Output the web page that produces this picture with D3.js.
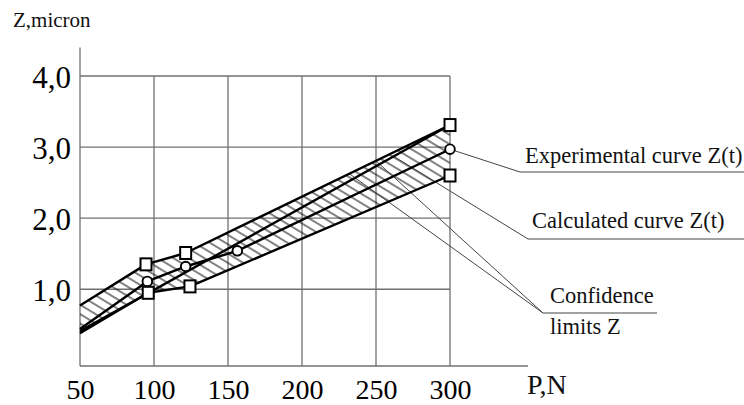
<!DOCTYPE html>
<html lang="en">
<head>
<meta charset="UTF-8">
<title>Z(P) with confidence limits</title>
<script src="https://cdnjs.cloudflare.com/ajax/libs/d3/7.8.5/d3.min.js"></script>
<style>
  body { margin: 0; background: #fff; }
  svg { display: block; font-family: "Liberation Serif", "DejaVu Serif", serif; }
</style>
</head>
<body>
<svg></svg>
<script>
  // ticks
  const xTicks = [50, 100, 150, 200, 250, 300];
  const yTicks = [1, 2, 3, 4];
  const yTickLabels = ['1,0', '2,0', '3,0', '4,0'];

  // [P, Z]
  const upperLimit = [[50, 0.77], [94.6, 1.35], [121.4, 1.51], [300, 3.31]];
  const lowerLimit = [[50, 0.38], [96.1, 0.95], [124.3, 1.04], [300, 2.60]];
  const experimental = [[50, 0.44], [95.5, 1.11], [121.4, 1.32], [156.3, 1.54], [300, 2.97]];
  const calculated = [[50, 0.41], [300, 3.31]];

  // which points carry markers
  const squareMarks = upperLimit.slice(1).concat(lowerLimit.slice(1));
  const circleMarks = experimental.slice(1);

  const W = 744, H = 405;
  const svg = d3.select('svg').attr('width', W).attr('height', H);

  const x = d3.scaleLinear().domain([50, 300]).range([80, 450]);
  const y = d3.scaleLinear().domain([-0.08, 4]).range([366, 76]);
  const line = d3.line().x(d => x(d[0])).y(d => y(d[1]));

  // point on a polyline at a given P
  function at(series, p) {
    const i = Math.max(1, d3.bisector(d => d[0]).left(series, p));
    const a = series[i - 1], b = series[i];
    const t = (p - a[0]) / (b[0] - a[0]);
    return [x(p), y(a[1] + t * (b[1] - a[1]))];
  }

  // hatch pattern
  const pat = svg.append('defs').append('pattern')
    .attr('id', 'hatch')
    .attr('patternUnits', 'userSpaceOnUse')
    .attr('width', 8).attr('height', 8)
    .attr('patternTransform', 'rotate(31)');
  pat.append('line')
    .attr('x1', 0).attr('y1', 4).attr('x2', 8).attr('y2', 4)
    .style('stroke', '#1a1a1a').style('stroke-width', 1.1);

  // grid
  const grid = svg.append('g').style('stroke', '#707070').style('stroke-width', 1.3);
  grid.selectAll('line.v')
    .data(xTicks.slice(1))
    .enter().append('line')
    .attr('x1', d => x(d)).attr('x2', d => x(d))
    .attr('y1', y(4)).attr('y2', y(-0.08));
  grid.selectAll('line.h')
    .data(yTicks)
    .enter().append('line')
    .attr('x1', x(50)).attr('x2', x(300))
    .attr('y1', d => y(d)).attr('y2', d => y(d));
  // axes lines
  grid.append('line')
    .attr('x1', x(50)).attr('x2', x(50))
    .attr('y1', y(4.4)).attr('y2', y(-0.08));
  grid.append('line')
    .attr('x1', x(50)).attr('x2', x(352.7))
    .attr('y1', y(-0.08)).attr('y2', y(-0.08));

  // hatched band between the limits
  svg.append('path')
    .attr('d', line(upperLimit.concat(lowerLimit.slice().reverse())) + 'Z')
    .style('fill', 'url(#hatch)')
    .style('stroke', 'none');

  // leader lines
  const leaders = [
    [at(experimental, 300), [520, 172], [744, 172]],
    [at(calculated, 262), [528, 239], [744, 239]],
    [at(upperLimit, 250), [543, 313], [657, 313]],
    [at(upperLimit, 232), [543, 313]]
  ];
  svg.selectAll('path.leader')
    .data(leaders)
    .enter().append('path')
    .attr('class', 'leader')
    .attr('d', d => d3.line()(d))
    .style('fill', 'none')
    .style('stroke', '#444')
    .style('stroke-width', 1);

  // curves
  svg.selectAll('path.curve')
    .data([upperLimit, lowerLimit, experimental, calculated])
    .enter().append('path')
    .attr('class', 'curve')
    .attr('d', line)
    .style('fill', 'none')
    .style('stroke', '#000')
    .style('stroke-width', 2.4)
    .style('stroke-linejoin', 'round');

  // markers
  svg.selectAll('rect.mark')
    .data(squareMarks)
    .enter().append('rect')
    .attr('class', 'mark')
    .attr('x', d => x(d[0]) - 5.5).attr('y', d => y(d[1]) - 6)
    .attr('width', 11).attr('height', 12)
    .style('fill', '#fff').style('stroke', '#000').style('stroke-width', 2);
  svg.selectAll('circle.mark')
    .data(circleMarks)
    .enter().append('circle')
    .attr('class', 'mark')
    .attr('cx', d => x(d[0])).attr('cy', d => y(d[1]))
    .attr('r', 4.8)
    .style('fill', '#fff').style('stroke', '#000').style('stroke-width', 1.9);

  // tick labels
  const xAxis = svg.append('g')
    .attr('transform', `translate(0,${y(-0.08)})`)
    .call(d3.axisBottom(x).tickValues(xTicks).tickSize(0).tickFormat(d3.format('d')));
  xAxis.select('.domain').remove();
  xAxis.selectAll('text')
    .attr('y', 33).attr('dy', 0)
    .style('font-family', '"Liberation Serif", serif')
    .style('font-size', '28px').style('fill', '#000');

  const yAxis = svg.append('g')
    .attr('transform', `translate(${x(50)},0)`)
    .call(d3.axisLeft(y).tickValues(yTicks).tickSize(0).tickFormat((d, i) => yTickLabels[i]));
  yAxis.select('.domain').remove();
  yAxis.selectAll('text')
    .attr('x', -9).attr('dy', 11)
    .style('font-family', '"Liberation Serif", serif')
    .style('font-size', '31px').style('fill', '#000');

  // titles and notes
  const notes = [
    { t: 'Z,micron', x: 13, y: 27, s: 21 },
    { t: 'P,N', x: 527, y: 394, s: 28 },
    { t: 'Experimental curve Z(t)', x: 525, y: 163, s: 22.5 },
    { t: 'Calculated curve Z(t)', x: 532, y: 228, s: 22.5 },
    { t: 'Confidence', x: 550, y: 303, s: 22.5 },
    { t: 'limits Z', x: 550, y: 334, s: 22.5 }
  ];
  svg.selectAll('text.note')
    .data(notes)
    .enter().append('text')
    .attr('class', 'note')
    .attr('x', d => d.x).attr('y', d => d.y)
    .style('font-size', d => d.s + 'px')
    .style('fill', '#111')
    .text(d => d.t);
</script>
</body>
</html>
